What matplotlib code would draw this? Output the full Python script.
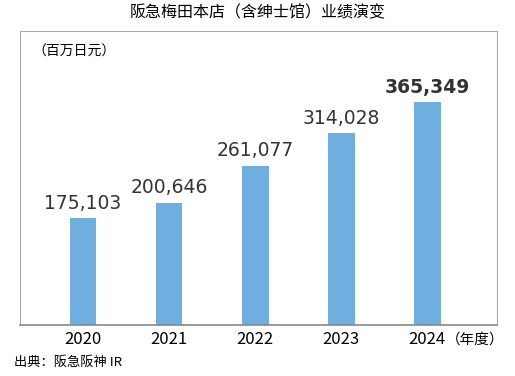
import matplotlib.pyplot as plt

plt.rcParams['font.family'] = ['Noto Sans CJK SC', 'DejaVu Sans']

years = ['2020', '2021', '2022', '2023', '2024']
sales = [175103, 200646, 261077, 314028, 365349]
labels = ['175,103', '200,646', '261,077', '314,028', '365,349']

fig = plt.figure(figsize=(5.15, 3.76), dpi=100)
ax = fig.add_axes([0.0388, 0.1356, 0.9262, 0.782])

x = range(len(years))
ax.bar(x, sales, width=0.31, color='#6FAFE0')
for i, (v, lab) in enumerate(zip(sales, labels)):
    ax.text(i, v + 9000, lab, ha='center', va='bottom',
            fontsize=13.5, color='#333333',
            family='DejaVu Sans', fontweight='bold' if i == 4 else 'normal')

ax.set_xlim(-0.733, 4.81)
ax.set_ylim(0, 482000)
ax.set_yticks([])
ax.set_xticks(list(x))
ax.set_xticklabels(years, fontsize=12)
ax.tick_params(axis='x', length=0, pad=4)
for s in ['top', 'right', 'left']:
    ax.spines[s].set_color('#aaaaaa')
ax.spines['bottom'].set_color('#888888')
ax.spines['bottom'].set_linewidth(1.2)

fig.text(0.5, 0.965, '阪急梅田本店（含绅士馆）业绩演变', ha='center', va='center', fontsize=11.5)
ax.text(0.025, 0.93, '（百万日元）', transform=ax.transAxes, ha='left', va='center', fontsize=10)
fig.text(0.98, 0.098, '（年度）', ha='right', va='center', fontsize=10.5)
fig.text(0.028, 0.035, '出典：阪急阪神 IR', ha='left', va='center', fontsize=9.5)

fig.savefig('out.png', dpi=100)
